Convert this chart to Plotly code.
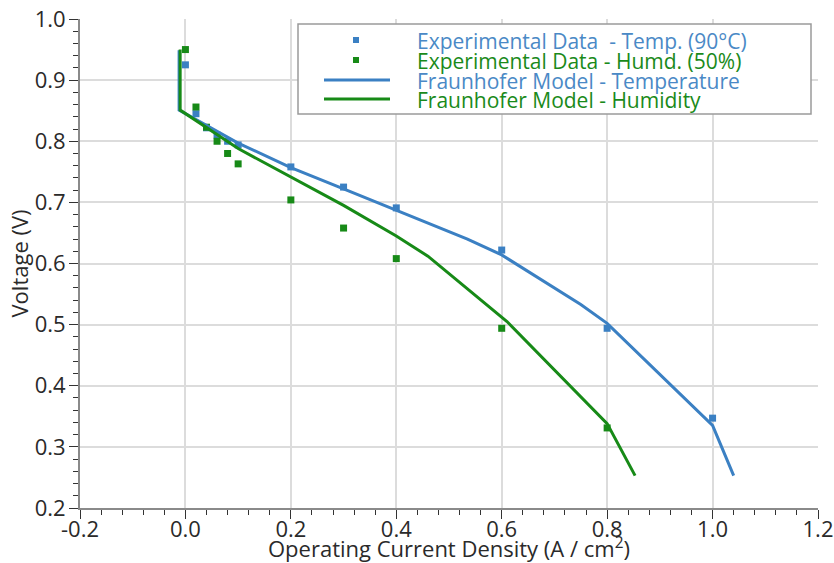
import plotly.graph_objects as go

# Experimental data
exp_temp_x = [0.0, 0.02, 0.04, 0.06, 0.08, 0.1, 0.2, 0.3, 0.4, 0.6, 0.8, 1.0]
exp_temp_y = [0.925, 0.845, 0.822, 0.81, 0.80, 0.794, 0.758, 0.725, 0.691, 0.622, 0.494, 0.347]
exp_hum_x = [0.0, 0.02, 0.04, 0.06, 0.08, 0.1, 0.2, 0.3, 0.4, 0.6, 0.8]
exp_hum_y = [0.95, 0.856, 0.823, 0.80, 0.78, 0.763, 0.704, 0.658, 0.608, 0.494, 0.331]

# Model curves
mod_temp_x = [-0.012, -0.012, 0.1, 0.2, 0.3, 0.4, 0.535, 0.6, 0.75, 0.8, 1.0, 1.04]
mod_temp_y = [0.949, 0.851, 0.797, 0.757, 0.722, 0.687, 0.64, 0.614, 0.533, 0.502, 0.335, 0.253]
mod_hum_x = [-0.01, -0.01, 0.1, 0.2, 0.3, 0.4, 0.46, 0.61, 0.75, 0.8, 0.853]
mod_hum_y = [0.95, 0.851, 0.788, 0.742, 0.695, 0.645, 0.612, 0.505, 0.383, 0.338, 0.253]

# Tick labels
x_tickvals = [-0.2, 0.0, 0.2, 0.4, 0.6, 0.8, 1.0, 1.2]
x_ticktext = ["-0.2", "0.0", "0.2", "0.4", "0.6", "0.8", "1.0", "1.2"]
y_tickvals = [0.2, 0.3, 0.4, 0.5, 0.6, 0.7, 0.8, 0.9, 1.0]
y_ticktext = ["0.2", "0.3", "0.4", "0.5", "0.6", "0.7", "0.8", "0.9", "1.0"]

names = [
    "Experimental Data\u00a0\u00a0- Temp. (90°C)",
    "Experimental Data - Humd. (50%)",
    "Fraunhofer Model - Temperature",
    "Fraunhofer Model - Humidity",
]
x_title = "Operating Current Density (A / cm<sup>2</sup>)"
y_title = "Voltage (V)"

BLUE = "#3b80c3"
GREEN = "#178a17"
BLUE_TXT = "#4a89c6"
GREEN_TXT = "#1a8a1a"
TXT = "#2a2a2a"
FONT = "Open Sans"

W, H = 834, 563
ML, MR, MT, MB = 80, 16, 19, 55
PW, PH = W - ML - MR, H - MT - MB


def px(x):
    return (x - ML) / PW


def py(y):
    return (H - MB - y) / PH


fig = go.Figure()
fig.add_trace(go.Scatter(x=exp_temp_x, y=exp_temp_y, mode="markers", name=names[0],
                         marker=dict(symbol="square", size=7, color=BLUE)))
fig.add_trace(go.Scatter(x=exp_hum_x, y=exp_hum_y, mode="markers", name=names[1],
                         marker=dict(symbol="square", size=7, color=GREEN)))
fig.add_trace(go.Scatter(x=mod_temp_x, y=mod_temp_y, mode="lines", name=names[2],
                         line=dict(color=BLUE, width=3)))
fig.add_trace(go.Scatter(x=mod_hum_x, y=mod_hum_y, mode="lines", name=names[3],
                         line=dict(color=GREEN, width=3)))

axis_common = dict(
    showgrid=True, gridcolor="#dcdcdc", gridwidth=1.5,
    showline=True, linecolor="#8a8a8a", linewidth=2,
    ticks="outside", ticklen=9, tickcolor="#333", tickwidth=1,
    tickfont=dict(family=FONT, size=22, color=TXT),
    zeroline=False, automargin=False,
)

fig.update_xaxes(range=[-0.2, 1.2], tickmode="array", tickvals=x_tickvals, ticktext=x_ticktext,
                 ticklabelstandoff=-8,
                 minor=dict(dtick=0.04, tick0=0, ticks="outside", ticklen=5, tickcolor="#333", showgrid=False),
                 **axis_common)
fig.update_yaxes(range=[0.2, 1.0], tickmode="array", tickvals=y_tickvals, ticktext=y_ticktext,
                 ticklabelstandoff=-1,
                 minor=dict(dtick=0.02, tick0=0, ticks="outside", ticklen=5, tickcolor="#333", showgrid=False),
                 title=dict(text=y_title, font=dict(family=FONT, size=22, color=TXT), standoff=0),
                 **axis_common)

# Hand-placed legend box, symbols and coloured texts
shapes = [dict(type="rect", xref="paper", yref="paper",
               x0=px(298), x1=px(811), y0=py(114), y1=py(24),
               line=dict(color="#9a9a9a", width=1.5), fillcolor="white", layer="above")]
for yc, col in [(40, BLUE), (60, GREEN)]:
    shapes.append(dict(type="rect", xref="paper", yref="paper",
                       x0=px(353), x1=px(359), y0=py(yc + 3), y1=py(yc - 3),
                       line=dict(width=0), fillcolor=col, layer="above"))
for yc, col in [(80, BLUE), (99, GREEN)]:
    shapes.append(dict(type="line", xref="paper", yref="paper",
                       x0=px(324), x1=px(390), y0=py(yc), y1=py(yc),
                       line=dict(color=col, width=3), layer="above"))

annotations = []
for name, yc, col in zip(names, [41, 61, 81, 100], [BLUE_TXT, GREEN_TXT, BLUE_TXT, GREEN_TXT]):
    annotations.append(dict(text=name, xref="paper", yref="paper", x=px(415), y=py(yc),
                            xanchor="left", yanchor="middle", showarrow=False,
                            font=dict(family=FONT, size=21, color=col)))

# x-axis title placed explicitly
annotations.append(dict(text=x_title, xref="paper", yref="paper", x=0.5, y=py(547),
                        xanchor="center", yanchor="middle", showarrow=False,
                        font=dict(family=FONT, size=22, color=TXT)))

fig.update_layout(
    width=W, height=H,
    margin=dict(l=ML, r=MR, t=MT, b=MB),
    paper_bgcolor="white", plot_bgcolor="white",
    font=dict(family=FONT, color=TXT),
    showlegend=False,
    shapes=shapes,
    annotations=annotations,
)

fig.write_html("out.html")
